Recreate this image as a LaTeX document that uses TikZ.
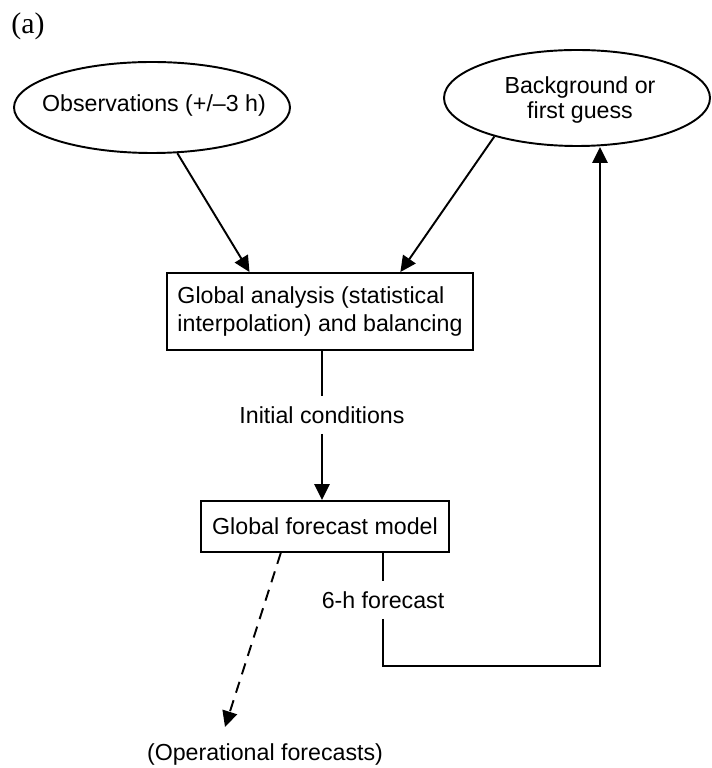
\documentclass[tikz,border=0pt]{standalone}
\usepackage{fontspec}
\setmainfont{Liberation Sans}
\newfontfamily\panelfont{Liberation Serif}
\usetikzlibrary{arrows.meta,positioning,calc,shapes.geometric}

\begin{document}
\begin{tikzpicture}[x=0.2mm,y=-0.2mm,>={Triangle[length=9pt,width=8.6pt]},line width=1.1pt,
  every node/.style={font=\fontsize{13.2}{16.2}\selectfont},
  oval/.style={draw,ellipse,inner sep=0pt},
  procbox/.style={draw,rectangle,inner sep=0pt},
  flowlabel/.style={inner sep=5.4pt},
  dashlink/.style={dash pattern=on 6.5pt off 4.5pt}]
\useasboundingbox (0,0) rectangle (711,768);
\node[font=\panelfont\fontsize{17}{19}\selectfont] (panel) at (28,26) {(a)};
% the two inputs
\node[oval,minimum width=5.52cm,minimum height=1.82cm] (obs) at (152,107.5) {};
\node (obstext) at (154,106) {Observations (+/–3 h)};
\node[oval,minimum width=5.32cm,minimum height=1.92cm] (bg) at (577,98) {};
\node[align=center,font=\fontsize{13.2}{14.7}\selectfont] (bgtext) at (580,100) {Background or\\first guess};
% analysis and model
\node[procbox,minimum width=6.12cm,minimum height=1.54cm,align=left] (box1) at (320,311.5) {Global analysis (statistical\\interpolation) and balancing};
\node[procbox,minimum width=4.96cm,minimum height=1.02cm] (fmodel) at (325,526.5) {Global forecast model};
\node[flowlabel] (ic) at (322,415) {Initial conditions};
\node[flowlabel] (fc) at (383,600) {6-h forecast};
\node (op) at (265,754) {(Operational forecasts)};
\coordinate (optip) at (225,727);
\coordinate (turn) at (600,666);
\draw[->] (obs.-61) -- ($(box1.north west)!0.271!(box1.north east)$);
\draw[->] (bg.205) -- ($(box1.north west)!0.761!(box1.north east)$);
\draw (ic.north |- box1.south) -- (ic.north);
\draw[->] (ic.south) -- (ic.south |- fmodel.north);
\draw (fc.north |- fmodel.south) -- (fc.north);
\draw[->] (fc.south) |- (turn) -- (turn |- bg.south);
\draw[->,dashlink] ($(fmodel.south west)!0.323!(fmodel.south east)$) -- (optip);
\end{tikzpicture}
\end{document}
